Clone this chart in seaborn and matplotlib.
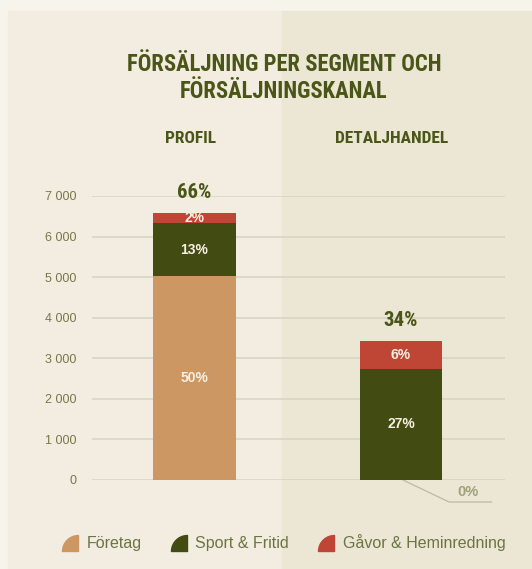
import numpy as np
import pandas as pd
import matplotlib
matplotlib.use("Agg")
import matplotlib.pyplot as plt
from matplotlib.patches import Rectangle
from matplotlib.lines import Line2D
from matplotlib.path import Path
import seaborn as sns

# -------------------------------------------------------------
# DATA
# -------------------------------------------------------------
kanaler = ["PROFIL", "DETALJHANDEL"]
segment = ["Företag", "Sport & Fritid", "Gåvor & Heminredning"]
foretag = [5025, 0]
sport = [1305, 2746]
gavor = [246, 678]
andel_foretag = ["50%", "0%"]
andel_sport = ["13%", "27%"]
andel_gavor = ["2%", "6%"]
andel_total = ["66%", "34%"]
yticks = [0, 1000, 2000, 3000, 4000, 5000, 6000, 7000]

FARGER = ["#cc9762", "#414b12", "#bf4535"]
OLIV = "#4a5617"
TICK = "#77784a"
SMAL = ["Roboto Condensed", "DejaVu Sans"]
BRED = ["Liberation Sans", "DejaVu Sans"]

sns.set_style("white")
plt.rcParams["font.family"] = BRED

df = pd.DataFrame({"kanal": kanaler, "foretag": foretag, "sport": sport, "gavor": gavor})
df["c1"] = df["foretag"]
df["c2"] = df["c1"] + df["sport"]
df["c3"] = df["c2"] + df["gavor"]

fig = plt.figure(figsize=(5.32, 5.69), dpi=100)
fig.patch.set_facecolor("#f7f4ec")
W, H = 532, 569
fig.patches.append(Rectangle((8 / W, 0), (282 - 8) / W, (H - 11) / H,
                             transform=fig.transFigure, color="#f2ede0", zorder=-5))
fig.patches.append(Rectangle((282 / W, 0), (W - 282) / W, (H - 11) / H,
                             transform=fig.transFigure, color="#ece6d5", zorder=-5))

ax = fig.add_axes([92 / W, 1 - 480 / H, (505 - 92) / W, (480 - 196) / H])
ax.set_facecolor("none")

# staplade staplar: ritas bakifrån (kumulativt)
for col, farg in zip(["c3", "c2", "c1"], FARGER[::-1]):
    sns.barplot(data=df, x="kanal", y=col, color=farg, saturation=1, width=0.40,
                errorbar=None, ax=ax, zorder=3, linewidth=0)

ax.set_xlim(-0.496, 1.504)
ax.set_ylim(0, 7000)
ax.set_yticks(yticks)
ax.set_yticklabels([f"{v:,}".replace(",", " ") for v in yticks], color=TICK, fontsize=9)
ax.tick_params(axis="y", length=0, pad=11)
ax.set_xticks([])
ax.set_xlabel("")
ax.set_ylabel("")
ax.grid(axis="y", color="#d4d4c0", linewidth=1.1, zorder=0)
ax.set_axisbelow(True)
for s in ax.spines.values():
    s.set_visible(False)

# etiketter i segmenten
rubrik_x = [-0.02, 0.955]
for i in range(len(kanaler)):
    lager = [(0, df["c1"][i], andel_foretag[i]),
             (df["c1"][i], df["c2"][i], andel_sport[i]),
             (df["c2"][i], df["c3"][i], andel_gavor[i])]
    for lo, hi, txt in lager:
        if hi - lo <= 0:
            continue
        ax.text(i, (lo + hi) / 2, txt, ha="center", va="center", color="#f6f0e2",
                fontsize=10, fontweight="bold", family=BRED, zorder=5)
    ax.annotate(andel_total[i], (i, df["c3"][i]), xytext=(0, 15), textcoords="offset points",
                ha="center", va="center", color=OLIV, fontsize=15, fontweight="bold",
                family=SMAL, annotation_clip=False)
    ax.text(rubrik_x[i], 8420, kanaler[i], ha="center", va="center", color=OLIV,
            fontsize=12.5, fontweight="bold", family=SMAL, clip_on=False)

# 0% med ledarlinje
ax.plot([1.01, 1.233, 1.44], [0, -542, -542], color="#b9bca0", linewidth=0.9, clip_on=False)
ax.text(1.325, -300, andel_foretag[1], ha="center", va="center", color="#9ea27a",
        fontsize=10.5, fontweight="bold", family=BRED, clip_on=False)

fig.text(284 / W, 1 - 78 / H, "FÖRSÄLJNING PER SEGMENT OCH\nFÖRSÄLJNINGSKANAL",
         ha="center", va="center", color=OLIV, fontsize=16.3, fontweight="bold",
         family=SMAL, linespacing=1.25)

# legend med kvartscirklar (centrerad kring markörens mittpunkt)
t = np.linspace(np.pi / 2, np.pi, 20)
verts = [(0.5, -0.5)] + [(np.cos(a) + 0.5, np.sin(a) - 0.5) for a in t] + [(0.5, -0.5)]
kvart = Path(verts, [Path.MOVETO] + [Path.LINETO] * 20 + [Path.CLOSEPOLY])
handles = [Line2D([], [], linestyle="none", marker=kvart, markersize=11.5,
                  markerfacecolor=f, markeredgecolor=f) for f in FARGER]
fig.legend(handles, segment, loc="center", bbox_to_anchor=(283 / W, 1 - 543 / H), ncol=3,
           frameon=False, fontsize=11.5, labelcolor="#6b7540", handletextpad=0.45,
           columnspacing=1.7, handlelength=1.2)

plt.savefig("out.png", dpi=100, facecolor=fig.get_facecolor())
plt.close()
